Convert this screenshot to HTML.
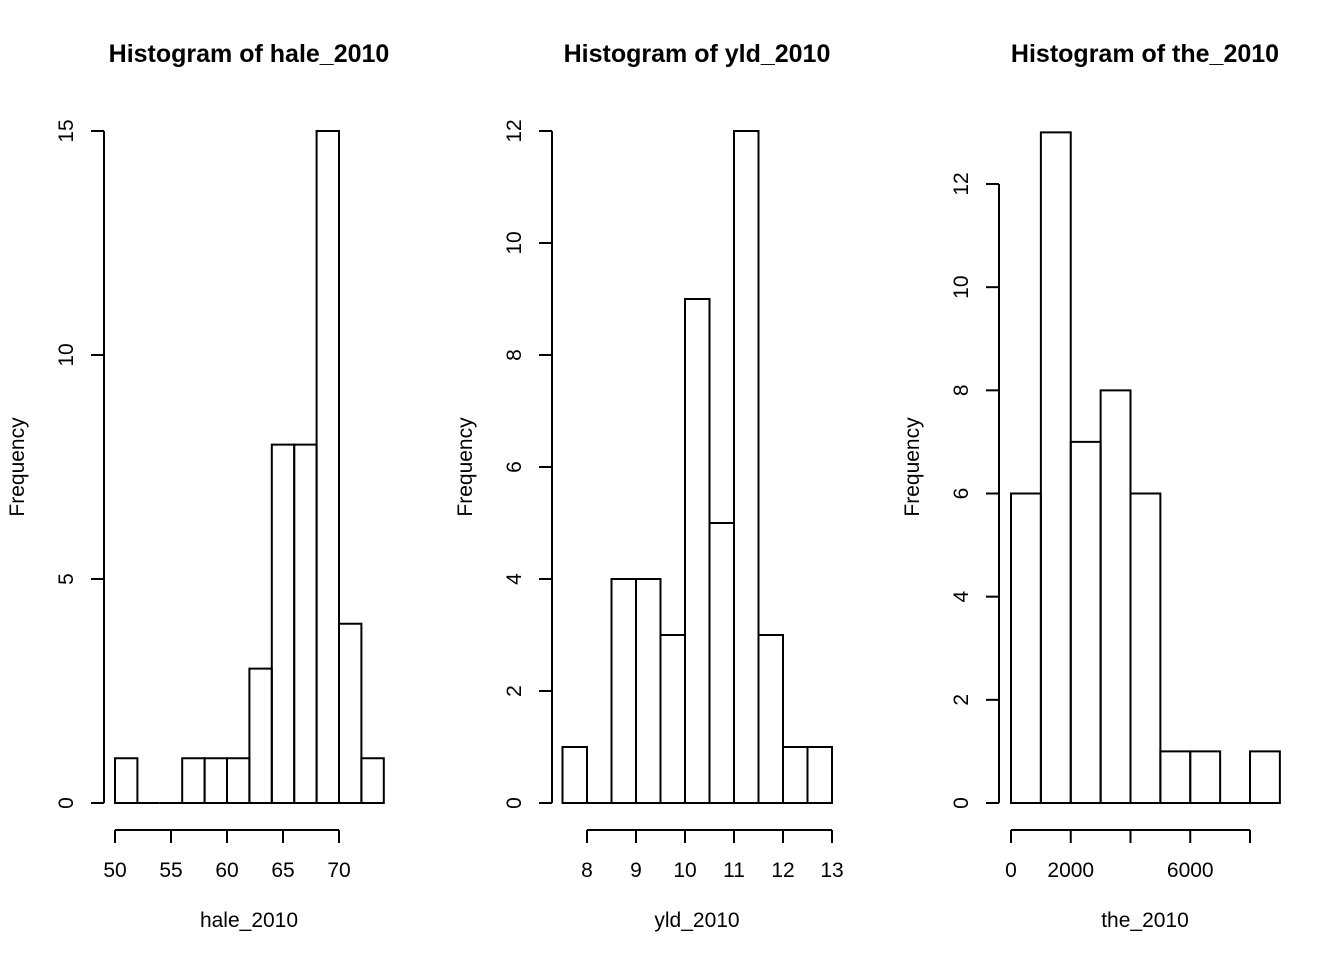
<!DOCTYPE html>
<html><head><meta charset="utf-8"><style>
html,body{margin:0;padding:0;background:#fff;}
svg{display:block;font-family:"Liberation Sans",Arial,sans-serif;}
</style></head><body>
<svg id="chart" width="1344" height="960" viewBox="0 0 1344 960" xmlns="http://www.w3.org/2000/svg"></svg>
<script>
// Panel 1: hale_2010
const haleBreaks = [50,52,54,56,58,60,62,64,66,68,70,72,74];
const haleCounts = [1,0,0,1,1,1,3,8,8,15,4,1];
const haleXTicks = [50,55,60,65,70];
const haleYTicks = [0,5,10,15];
// Panel 2: yld_2010
const yldBreaks = [7.5,8,8.5,9,9.5,10,10.5,11,11.5,12,12.5,13];
const yldCounts = [1,0,4,4,3,9,5,12,3,1,1];
const yldXTicks = [8,9,10,11,12,13];
const yldYTicks = [0,2,4,6,8,10,12];
// Panel 3: the_2010
const theBreaks = [0,1000,2000,3000,4000,5000,6000,7000,8000,9000];
const theCounts = [6,13,7,8,6,1,1,0,1];
const theXTicks = [0,2000,4000,6000,8000];
const theXTickLabels = ["0","2000","","6000",""];
const theYTicks = [0,2,4,6,8,10,12];

const NS="http://www.w3.org/2000/svg";
const svg=document.getElementById('chart');
function mk(tag,attrs,parent){const e=document.createElementNS(NS,tag);for(const k in attrs)e.setAttribute(k,attrs[k]);(parent||svg).appendChild(e);return e;}

function panel(cfg){
  const g=mk('g',{});
  
  
  const x=v=>cfg.x0+(v-cfg.xv0)*(cfg.x1-cfg.x0)/(cfg.xv1-cfg.xv0);
  const y=v=>803-v*(803-cfg.ytopPx)/cfg.ytopVal;
  const t=mk('text',{x:cfg.tx,y:62,'text-anchor':'middle','font-size':25,'font-weight':'bold'},g);
  t.textContent='Histogram of '+cfg.key;
  
  
  for(let i=0;i<cfg.counts.length;i++){
    const a=x(cfg.breaks[i]),b=x(cfg.breaks[i+1]),top=y(cfg.counts[i]);
    const r=mk('path',{d:`M${a},803 L${a},${top} L${b},${top} L${b},803 Z`,fill:'none',stroke:'#000','stroke-width':2},g);
    
    
  }
  const xa=mk('g',{},g);
  
  
  const xt=cfg.xticks;
  mk('line',{x1:x(xt[0]),x2:x(xt[xt.length-1]),y1:830,y2:830,stroke:'#000','stroke-width':2},xa);
  xt.forEach((v,i)=>{
    mk('line',{x1:x(v),x2:x(v),y1:830,y2:843,stroke:'#000','stroke-width':2},xa);
    const lab=cfg.xlabels?cfg.xlabels[i]:String(v);
    if(lab){const tt=mk('text',{x:x(v),y:877,'text-anchor':'middle','font-size':21},xa);tt.textContent=lab;}
  });
  const xl=mk('text',{x:cfg.tx,y:927,'text-anchor':'middle','font-size':21},g);
  xl.textContent=cfg.key;
  
  
  const ya=mk('g',{},g);
  
  
  const yt=cfg.yticks;
  mk('line',{x1:cfg.yax,x2:cfg.yax,y1:y(yt[0]),y2:y(yt[yt.length-1]),stroke:'#000','stroke-width':2},ya);
  yt.forEach(v=>{
    mk('line',{x1:cfg.yax-13,x2:cfg.yax,y1:y(v),y2:y(v),stroke:'#000','stroke-width':2},ya);
    const tt=mk('text',{x:0,y:0,'text-anchor':'middle','font-size':21,transform:`translate(${cfg.yax-31},${y(v)}) rotate(-90)`},ya);
    tt.textContent=String(v);
  });
  const yl=mk('text',{x:0,y:0,'text-anchor':'middle','font-size':21,transform:`translate(${cfg.yax-80},467) rotate(-90)`},g);
  yl.textContent='Frequency';
  
  
}
panel({key:'hale_2010',breaks:haleBreaks,counts:haleCounts,xticks:haleXTicks,yticks:haleYTicks,x0:115,xv0:50,x1:339,xv1:70,ytopPx:131,ytopVal:15,yax:104,tx:249});
panel({key:'yld_2010',breaks:yldBreaks,counts:yldCounts,xticks:yldXTicks,yticks:yldYTicks,x0:587,xv0:8,x1:832,xv1:13,ytopPx:131,ytopVal:12,yax:552,tx:697});
panel({key:'the_2010',breaks:theBreaks,counts:theCounts,xticks:theXTicks,xlabels:theXTickLabels,yticks:theYTicks,x0:1011,xv0:0,x1:1250,xv1:8000,ytopPx:184,ytopVal:12,yax:999,tx:1145});
</script>
</body></html>
